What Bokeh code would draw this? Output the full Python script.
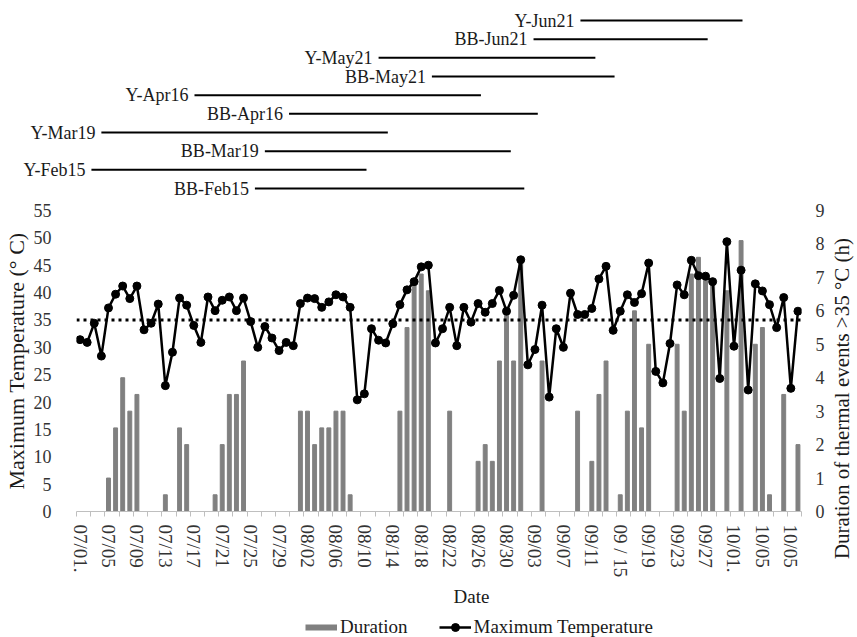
import math
from bokeh.plotting import figure
from bokeh.models import Range1d, LinearAxis, FixedTicker, Span, Legend, LegendItem, Title
from bokeh.layouts import column, row
from bokeh.embed import file_html
from bokeh.resources import INLINE
from bokeh.core.properties import value

# ---------------- data ----------------
max_temp = [31.4, 30.9, 34.4, 28.4, 37.2, 39.7, 41.2, 38.9, 41.2, 33.2,
            34.4, 37.9, 23.0, 29.1, 39.0, 37.7, 34.0, 30.9, 39.2, 36.7,
            38.6, 39.2, 36.7, 39.0, 34.7, 30.0, 33.8, 31.7, 29.4, 30.9,
            30.3, 38.0, 39.0, 38.9, 37.3, 38.3, 39.6, 39.2, 37.3, 20.4,
            21.5, 33.4, 31.3, 30.8, 34.3, 37.8, 40.5, 42.0, 44.7, 45.0,
            30.8, 33.4, 37.3, 30.3, 37.3, 34.6, 38.0, 36.4, 38.0, 40.4,
            36.6, 39.5, 46.0, 26.8, 29.6, 37.7, 20.9, 33.4, 30.0, 39.9,
            36.0, 36.0, 37.1, 42.5, 44.8, 33.1, 36.6, 39.6, 38.2, 39.8,
            45.4, 25.6, 23.5, 30.7, 41.4, 39.6, 45.9, 43.1, 43.0, 42.0,
            24.3, 49.3, 30.2, 44.1, 22.2, 41.6, 40.3, 37.8, 33.6, 39.1,
            22.5, 36.6]

duration = [0, 0, 0, 0, 1, 2.5, 4, 3, 3.5, 0,
            0, 0, 0.5, 0, 2.5, 2, 0, 0, 0, 0.5,
            2, 3.5, 3.5, 4.5, 0, 0, 0, 0, 0, 0,
            0, 3, 3, 2, 2.5, 2.5, 3, 3, 0.5, 0,
            0, 0, 0, 0, 0, 3, 5.5, 6.9, 7.1, 6.6,
            0, 0, 3, 0, 0, 0, 1.5, 2, 1.5, 4.5,
            6, 4.5, 7.5, 0, 0, 4.5, 0, 0, 0, 0,
            3, 0, 1.5, 3.5, 4.5, 0, 0.5, 3, 6, 2.5,
            5, 0, 0, 0, 5, 3, 7.1, 7.6, 7.0, 6.9,
            0, 6.6, 0, 8.1, 0, 5, 5.5, 0.5, 0, 3.5,
            0, 2]

tick_labels = ["07/01.", "07/05", "07/09", "07/13", "07/17", "07/21", "07/25",
               "07/29", "08/02", "08/06", "08/10", "08/14", "08/18", "08/22",
               "08/26", "08/30", "09/03", "09/07", "09/11", "09 / 15", "09/19",
               "09/23", "09/27", "10/01.", "10/05", "10/05"]
label_step = 4

threshold = 35

period_names = ["Y-Jun21", "BB-Jun21", "Y-May21", "BB-May21", "Y-Apr16",
                "BB-Apr16", "Y-Mar19", "BB-Mar19", "Y-Feb15", "BB-Feb15"]
period_start = [70.4, 63.8, 42.0, 49.5, 16.1, 29.4, 3.0, 26.0, 1.6, 24.6]
period_end = [93.2, 88.3, 72.5, 75.2, 56.4, 64.4, 43.3, 60.6, 40.3, 62.5]

# ---------------- styling / layout ----------------
FONT = "Liberation Serif"
BAR_COLOR = "#808080"
AXIS_GREY = "#bfbfbf"
TXT = "#1a1a1a"
PAGE_W = 857
LEFT = 76            # px left of the plotting frame
RIGHT = 28           # px right of the frame (tick labels)
FRAME_W = 725
FRAME_H = 301
TOP_H = 198          # timeline strip
MAIN_TOP = 12
MAIN_BOTTOM = 102
LEG_H = 25
ROW_PX = 18.67
ROW0 = 20

n = len(max_temp)
idx = list(range(n))
rows = list(range(len(period_names)))
dx = FRAME_W / n

x_range = Range1d(-0.5, n - 0.5)

# ---------------- main chart ----------------
p = figure(frame_width=FRAME_W, frame_height=FRAME_H, x_range=x_range,
           y_range=Range1d(0, 55), output_backend="svg", toolbar_location=None,
           min_border_left=LEFT, min_border_right=RIGHT, min_border_top=MAIN_TOP,
           min_border_bottom=MAIN_BOTTOM, outline_line_color=None, frame_align=False)
p.extra_y_ranges = {"dur": Range1d(0, 9)}
p.xgrid.visible = False
p.ygrid.visible = False

bars = p.vbar(x=idx, top=duration, width=0.55, color=BAR_COLOR,
              y_range_name="dur")
p.add_layout(Span(location=threshold, dimension="width", line_color="black",
                  line_width=3, line_dash="3 4"))
line_r = p.line(idx, max_temp, line_color="black", line_width=2.5)
pts_r = p.scatter(idx, max_temp, size=8, color="black")

# x axis
xa = p.xaxis[0]
xa.ticker = FixedTicker(ticks=[i * label_step for i in range(len(tick_labels))],
                        minor_ticks=[i + 0.5 for i in range(-1, n, 2)])
xa.major_label_overrides = {i * label_step: lab for i, lab in enumerate(tick_labels)}
xa.major_label_orientation = "vertical"
xa.major_label_text_font = FONT
xa.major_label_text_font_size = "19px"
xa.major_label_text_color = "#333333"
xa.major_label_standoff = 7
xa.axis_line_color = AXIS_GREY
xa.major_tick_line_color = None
xa.minor_tick_line_color = AXIS_GREY
xa.minor_tick_in = 0
xa.minor_tick_out = 5
p.add_layout(Title(text="Date", align="left", offset=453 - LEFT, standoff=6,
                   text_font=FONT, text_font_size="19px", text_font_style="normal",
                   text_color=TXT), "below")

# left axis
ya = p.yaxis[0]
ya.ticker = FixedTicker(ticks=list(range(0, 56, 5)))
ya.axis_line_color = None
ya.major_tick_line_color = None
ya.minor_tick_line_color = None
ya.major_label_standoff = 19
ya.major_label_text_font = FONT
ya.major_label_text_font_size = "18px"
ya.major_label_text_color = "#333333"
ya.axis_label = "Maximum Temperature (° C)"
ya.axis_label_text_font = FONT
ya.axis_label_text_font_size = "22px"
ya.axis_label_text_font_style = "normal"
ya.axis_label_text_color = TXT
ya.axis_label_standoff = 2

# right axis
ra = LinearAxis(y_range_name="dur", ticker=FixedTicker(ticks=list(range(0, 10))))
ra.axis_line_color = None
ra.major_tick_line_color = None
ra.minor_tick_line_color = None
ra.major_label_standoff = 8
ra.major_label_text_font = FONT
ra.major_label_text_font_size = "18px"
ra.major_label_text_color = "#333333"
p.add_layout(ra, "right")

main_h = MAIN_TOP + FRAME_H + MAIN_BOTTOM
main_w = LEFT + FRAME_W + RIGHT
side_w = PAGE_W - main_w

# right axis title (reads bottom to top)
r = figure(width=side_w, height=main_h, x_range=Range1d(0, side_w),
           y_range=Range1d(main_h, 0), output_backend="svg", toolbar_location=None,
           x_axis_location=None, y_axis_location=None, min_border=0,
           outline_line_color=None, frame_align=False)
r.xgrid.visible = False
r.ygrid.visible = False
r.text(x=[side_w / 2 - 2], y=[398 - TOP_H], text=["Duration of thermal events >35 °C (h)"],
       angle=math.pi / 2, text_align="center", text_baseline="middle",
       text_font=value(FONT), text_font_size="21px", text_color=TXT)

# ---------------- timeline strip ----------------
t_start = -0.5 - LEFT / dx
t_range = Range1d(t_start, t_start + PAGE_W / dx)
t = figure(width=PAGE_W, height=TOP_H, x_range=t_range,
           y_range=Range1d(rows[-1] + (TOP_H - ROW0 - rows[-1] * ROW_PX) / ROW_PX,
                           -ROW0 / ROW_PX),
           output_backend="svg", toolbar_location=None,
           x_axis_location=None, y_axis_location=None, min_border=0,
           outline_line_color=None, frame_align=False)
t.xgrid.visible = False
t.ygrid.visible = False
t.segment(x0=period_start, y0=rows, x1=period_end, y1=rows,
          line_color="black", line_width=2)
t.text(x=period_start, y=rows, text=period_names, x_offset=-6,
       text_align="right", text_baseline="middle",
       text_font=value(FONT), text_font_size="18px", text_color=TXT)

# ---------------- legend strip ----------------
# proxy renderers use the real series but fall outside this strip's visible ranges
g = figure(width=PAGE_W, height=LEG_H, x_range=Range1d(0, 1), y_range=Range1d(100, 101),
           output_backend="svg", toolbar_location=None,
           x_axis_location=None, y_axis_location=None, min_border=0,
           outline_line_color=None, frame_align=False)
g.xgrid.visible = False
g.ygrid.visible = False
leg_dur = g.line(x=idx, y=duration, line_color=BAR_COLOR, line_width=6)
leg_line = g.line(x=idx, y=max_temp, line_color="black", line_width=2.5)
leg_pts = g.scatter(x=idx, y=max_temp, size=8, color="black")
legend = Legend(items=[LegendItem(label="Duration", renderers=[leg_dur]),
                       LegendItem(label="Maximum Temperature", renderers=[leg_line, leg_pts])],
                orientation="horizontal", location=(305, 0),
                border_line_color=None, background_fill_alpha=0,
                label_text_font=FONT, label_text_font_size="19px",
                label_text_color=TXT, label_standoff=3,
                glyph_width=32, glyph_height=20, label_height=20,
                spacing=31, margin=0, padding=2)
g.add_layout(legend, "center")

layout = column(t, row(p, r, spacing=0), g, spacing=0)
open("out.html", "w").write(file_html(layout, INLINE))
